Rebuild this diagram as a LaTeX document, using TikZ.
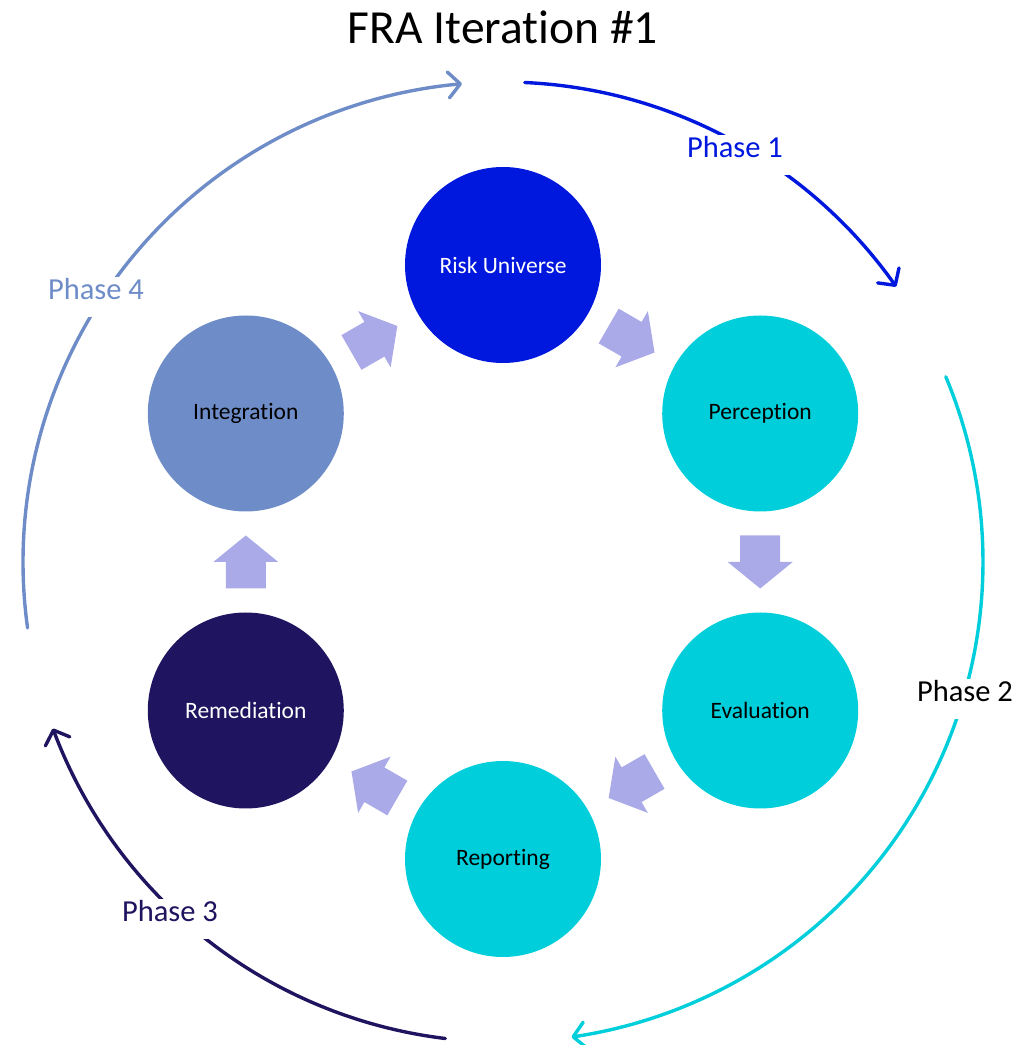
\documentclass[tikz,border=0pt]{standalone}
\usepackage{fontspec}
\setmainfont{Carlito}[Ligatures=NoCommon]
\usetikzlibrary{arrows.meta,bending,calc}

\definecolor{riskblue}{RGB}{0,23,221}
\definecolor{tealc}{RGB}{0,206,218}
\definecolor{steelc}{RGB}{110,140,200}
\definecolor{navyc}{RGB}{30,20,95}
\definecolor{chevron}{RGB}{170,170,232}

\tikzset{
  stage/.style={circle, minimum size=196pt, inner sep=0pt, draw=none,
    font=\fontsize{23.5}{27}\selectfont},
  phasearc/.style={line width=3.4pt, line cap=round,
    -{Straight Barb[length=12pt,width=26pt,line join=round,line cap=round]}},
  phaselabel/.style={fill=white, inner xsep=10pt, inner ysep=15pt,
    text height=0.75em, text depth=0.25em,
    font=\fontsize{30.5}{34}\selectfont},
  pics/blockarrow/.style={code={
    \fill[chevron] (-26.5,-20) -- (0,-20) -- (0,-32.5) -- (26.5,0)
      -- (0,32.5) -- (0,20) -- (-26.5,20) -- cycle;}}
}

\begin{document}
\begin{tikzpicture}[x=1pt,y=1pt]
\useasboundingbox (0,0) rectangle (1031,1045);

\node (title) at (503,1018) {\fontsize{47.5}{52}\selectfont FRA Iteration \#1};

\coordinate (c) at (503,483);

% the six stages of the cycle
\node[stage, fill=riskblue, text=white] (ru)  at ($(c)+(90:297)$)  {Risk Universe};
\node[stage, fill=tealc]                (per) at ($(c)+(30:297)$)  {Perception};
\node[stage, fill=tealc]                (eva) at ($(c)+(-30:297)$) {Evaluation};
\node[stage, fill=tealc]                (rep) at ($(c)+(-90:297)$) {Reporting};
\node[stage, fill=navyc, text=white]    (rem) at ($(c)+(-150:297)$){Remediation};
\node[stage, fill=steelc]               (int) at ($(c)+(150:297)$) {Integration};

% block arrows between consecutive stages
\pic[rotate=-30]  at ($(ru)!0.5!(per)$)  {blockarrow};
\pic[rotate=-90]  at ($(per)!0.5!(eva)$) {blockarrow};
\pic[rotate=-150] at ($(eva)!0.5!(rep)$) {blockarrow};
\pic[rotate=150]  at ($(rep)!0.5!(rem)$) {blockarrow};
\pic[rotate=90]   at ($(rem)!0.5!(int)$) {blockarrow};
\pic[rotate=30]   at ($(int)!0.5!(ru)$)  {blockarrow};

% outer phase arcs
\draw[phasearc, riskblue] ([shift={(87.4:480)}]c) arc[start angle=87.4, end angle=35, radius=480];
\draw[phasearc, tealc]    ([shift={(22.7:480)}]c) arc[start angle=22.7, end angle=-81.8, radius=480];
\draw[phasearc, navyc]    ([shift={(263.1:480)}]c) arc[start angle=263.1, end angle=200.3, radius=480];
\draw[phasearc, steelc]   ([shift={(187.9:480)}]c) arc[start angle=187.9, end angle=94.9, radius=480];

% phase labels sitting on the arcs
\node[phaselabel, text=riskblue] (p1) at (735,890) {Phase 1};
\node[phaselabel, text=black]    (p2) at (965,346) {Phase 2};
\node[phaselabel, text=navyc]    (p3) at (170,126) {Phase 3};
\node[phaselabel, text=steelc]   (p4) at (96,748)  {Phase 4};
\end{tikzpicture}
\end{document}
